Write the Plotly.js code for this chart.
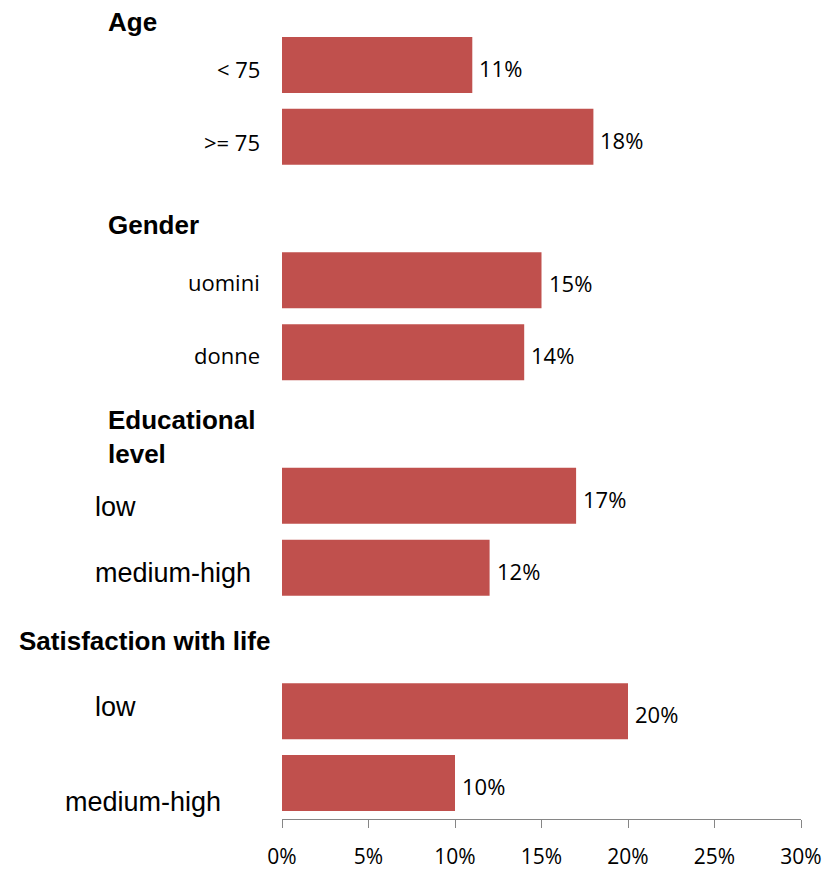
<!DOCTYPE html>
<html>
<head>
<meta charset="utf-8">
<script src="https://cdn.plot.ly/plotly-3.0.1.min.js"></script>
<style>html,body{margin:0;padding:0;background:#fff;}#chart{width:828px;height:871px;}</style>
</head>
<body>
<div id="chart"></div>
<script>
// Data
const groups = ["Age", "Age", "Gender", "Gender", "Educational level", "Educational level", "Satisfaction with life", "Satisfaction with life"];
const labels = ["< 75", ">= 75", "uomini", "donne", "low", "medium-high", "low", "medium-high"];
const values = [11, 18, 15, 14, 17, 12, 20, 10];
const headers = ["Age", "Gender", "Educational<br>level", "Satisfaction with life"];
const xTicks = [0, 5, 10, 15, 20, 25, 30];

// Build unique category ids with spacer rows between groups
const ids = labels.map((l, i) => groups[i] + "|" + l);
const cats = [];
let spacer = 0;
ids.forEach((id, i) => {
  if (i > 0 && groups[i] !== groups[i - 1]) { spacer++; cats.push(" ".repeat(spacer)); }
  cats.push(id);
});

const PL = 282, PR = 801, PT = 29, PB = 819; // plot area in px
const px2x = px => (px - PL) / (PR - PL);
const px2y = py => 1 - (py - PT) / (PB - PT);

const color = "#C0504D";
const trace = {
  type: "bar",
  orientation: "h",
  x: values,
  y: ids,
  width: 0.78,
  marker: { color: color },
  hoverinfo: "none"
};

const annotations = [];
// value labels
values.forEach((v, i) => {
  annotations.push({
    x: v, y: ids[i], xref: "x", yref: "y",
    text: v + "%", showarrow: false, xanchor: "left", xshift: 5, yshift: -3,
    font: { family: "Open Sans", size: 22, color: "#000" }
  });
});
// category labels
const catStyle = [
  { x: 262, anchor: "right", font: "Open Sans", size: 22, shift: -4 },
  { x: 262, anchor: "right", font: "Open Sans", size: 22, shift: -5 },
  { x: 262, anchor: "right", font: "Open Sans", size: 22, shift: -2 },
  { x: 262, anchor: "right", font: "Open Sans", size: 22, shift: -3 },
  { x: 93, anchor: "left", font: "Liberation Sans", size: 27, shift: -11 },
  { x: 93, anchor: "left", font: "Liberation Sans", size: 27, shift: -5 },
  { x: 93, anchor: "left", font: "Liberation Sans", size: 27, shift: 4 },
  { x: 63, anchor: "left", font: "Liberation Sans", size: 27, shift: -19 }
];
labels.forEach((l, i) => {
  const s = catStyle[i];
  annotations.push({
    x: px2x(s.x), xref: "paper", y: ids[i], yref: "y",
    text: l, showarrow: false, xanchor: s.anchor, yshift: s.shift,
    font: { family: s.font, size: s.size, color: "#000" }
  });
});
// group headers
const headerPos = [
  { x: 106, y: 22 }, { x: 106, y: 225 }, { x: 106, y: 437 }, { x: 17, y: 641 }
];
headers.forEach((h, i) => {
  const p = headerPos[i];
  annotations.push({
    x: px2x(p.x), xref: "paper", y: px2y(p.y), yref: "paper",
    text: "<b>" + h + "</b>", showarrow: false, xanchor: "left", yanchor: "middle", align: "left",
    font: { family: "Liberation Sans", size: 26, color: "#000" }
  });
});

const layout = {
  width: 828, height: 871,
  margin: { l: PL, r: 828 - PR, t: PT, b: 871 - PB },
  paper_bgcolor: "#fff", plot_bgcolor: "#fff",
  showlegend: false,
  xaxis: {
    range: [0, 30], tickvals: xTicks, ticktext: xTicks.map(t => t + "%"),
    showgrid: false, zeroline: false, showline: true, linecolor: "#868686", linewidth: 1,
    ticks: "outside", ticklen: 8, tickcolor: "#868686", ticklabelstandoff: 11,
    tickfont: { family: "Open Sans", size: 21, color: "#000" }, fixedrange: true
  },
  yaxis: {
    type: "category", categoryorder: "array", categoryarray: cats,
    range: [cats.length - 0.5, -0.5], showticklabels: false, showgrid: false,
    zeroline: false, showline: false, ticks: "", fixedrange: true
  },
  annotations: annotations
};

Plotly.newPlot("chart", [trace], layout, { staticPlot: true });
</script>
</body>
</html>
